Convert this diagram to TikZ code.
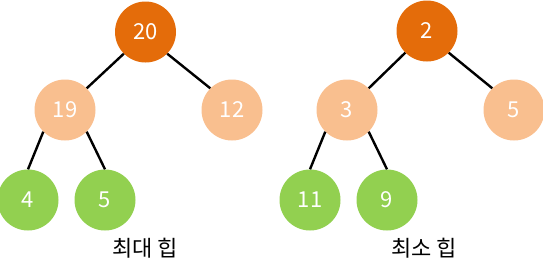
\documentclass[tikz,border=0pt]{standalone}
\usepackage{fontspec}
\setmainfont{Noto Sans CJK KR}
\usepackage{xcolor}
\usetikzlibrary{calc}
\definecolor{rootorange}{HTML}{E46C0A}
\definecolor{midorange}{HTML}{F9BF8F}
\definecolor{leafgreen}{HTML}{92D050}

\begin{document}
\begin{tikzpicture}[x=1pt, y=-1pt,
    heapnode/.style={circle, draw=none, minimum size=61pt, inner sep=0pt,
        text=white, font=\fontsize{22}{22}\selectfont},
    rootnode/.style={heapnode, fill=rootorange},
    midnode/.style={heapnode, fill=midorange},
    leafnode/.style={heapnode, fill=leafgreen},
    edge/.style={line width=2.4pt, black},
    caption/.style={font=\fontsize{22}{22}\selectfont, text=black}]
    \useasboundingbox (0,0) rectangle (543,274);
    % Left: max heap
    \node[rootnode] (maxroot) at (145.5,32) {20};
    \node[midnode]  (maxl)    at (65,110)   {19};
    \node[midnode]  (maxr)    at (232,110)  {12};
    \node[leafnode] (maxll)   at (28,200)   {4};
    \node[leafnode] (maxlr)   at (105,200)  {5};
    \draw[edge] (maxroot.south west) -- (maxl.north east);
    \draw[edge] (maxroot.south east) -- (maxr.north west);
    \draw[edge] (maxl.south west) -- (maxll.north);
    \draw[edge] (maxl.south east) -- (maxlr.north);
    \node[caption] (maxcap) at (145,248) {최대\ 힙};
    % Right: min heap
    \node[rootnode] (minroot) at (427,31)   {2};
    \node[midnode]  (minl)    at (347,110)  {3};
    \node[midnode]  (minr)    at (514,110)  {5};
    \node[leafnode] (minll)   at (310,200)  {11};
    \node[leafnode] (minlr)   at (387,200)  {9};
    \draw[edge] (minroot.south west) -- (minl.north east);
    \draw[edge] (minroot.south east) -- (minr.north west);
    \draw[edge] (minl.south west) -- (minll.north);
    \draw[edge] (minl.south east) -- (minlr.north);
    \node[caption] (mincap) at (424,248) {최소\ 힙};
\end{tikzpicture}
\end{document}
